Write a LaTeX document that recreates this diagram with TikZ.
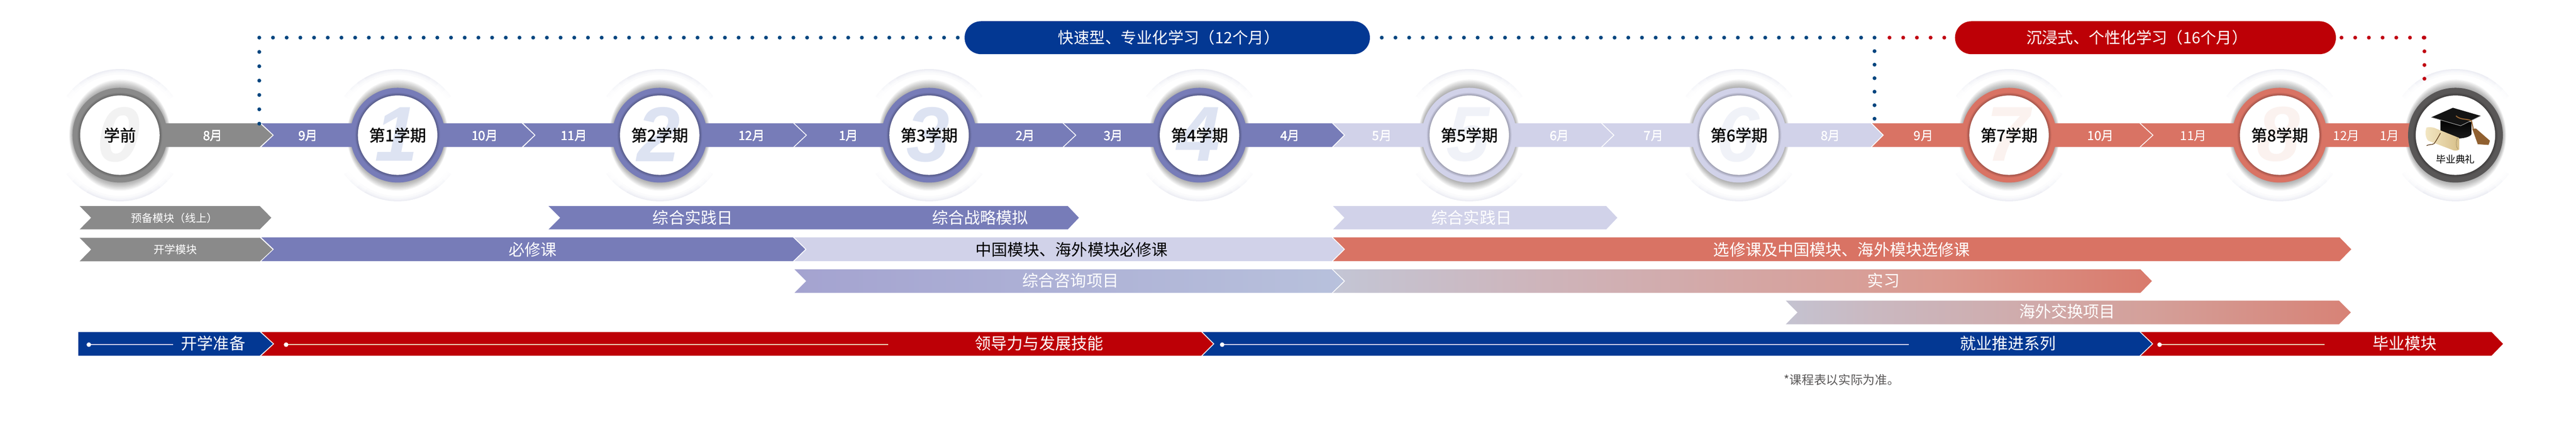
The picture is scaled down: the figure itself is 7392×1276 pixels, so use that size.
\documentclass[tikz,border=0pt]{standalone}
\usepackage{fontspec}
\setmainfont{Noto Sans CJK SC}
\newfontfamily\ghostfont[BoldItalicFont={Liberation Sans Bold Italic}]{Liberation Sans}
\newfontfamily\semfont[FakeBold=1.2]{Noto Sans CJK SC}

\definecolor{navy}{HTML}{033893}
\definecolor{crimson}{HTML}{BD0006}
\definecolor{dotblue}{HTML}{00457F}
\definecolor{dotred}{HTML}{C00010}
\definecolor{slate}{HTML}{8A8A8A}
\definecolor{iris}{HTML}{777CB8}
\definecolor{mist}{HTML}{D1D2E9}
\definecolor{coral}{HTML}{D97364}
\definecolor{coal}{HTML}{595757}
\definecolor{sky}{HTML}{B9C3DF}
\definecolor{skyb}{HTML}{BFCCDF}
\definecolor{blush}{HTML}{CEB4BA}
\definecolor{blushb}{HTML}{CAB8C0}
\definecolor{rosy}{HTML}{DA998F}
\definecolor{rosyb}{HTML}{D4A09A}
\definecolor{lilaca}{HTML}{A4A3D0}
\definecolor{lilacb}{HTML}{B8C1DC}
\definecolor{parch}{HTML}{F3E7C4}
\definecolor{parchb}{HTML}{D8C08A}
\definecolor{haloc}{HTML}{7078A8}

\pgfdeclarehorizontalshading{sweepa}{100bp}{color(0bp)=(sky); color(20bp)=(skyb); color(38bp)=(blush); color(62bp)=(rosy); color(78bp)=(coral); color(100bp)=(coral)}
\pgfdeclarehorizontalshading{sweepb}{100bp}{color(0bp)=(sky); color(18bp)=(skyb); color(33bp)=(blushb); color(57bp)=(rosyb); color(84bp)=(coral); color(100bp)=(coral)}

\tikzset{
  lab/.style={inner sep=0pt},
  monthlab/.style={lab,text=white,text height=31.7pt,text depth=4.3pt,font=\fontsize{36}{36}\selectfont},
  semlab/.style={lab,text=black,text height=40.5pt,text depth=5.5pt,font=\semfont\fontsize{46}{46}\selectfont},
  barlab/.style={lab,text=white,text height=40.5pt,text depth=5.5pt,font=\fontsize{46}{46}\selectfont},
  smalllab/.style={lab,text=white,text height=27.3pt,text depth=3.7pt,font=\fontsize{31}{31}\selectfont},
  pilltext/.style={lab,text=white,text height=39.6pt,text depth=5.4pt,font=\fontsize{45}{45}\selectfont},
  pill/.style={rounded corners=47pt,minimum height=94.5pt,inner sep=0pt},
  disc/.style={circle,fill=white,minimum size=228pt,inner sep=0pt},
  ghost/.style={inner sep=0pt,font=\ghostfont\bfseries\itshape\fontsize{223}{223}\selectfont},
  bluedots/.style={dotblue,line width=11pt,line cap=round,dash pattern=on 0pt off 39.3pt},
  reddots/.style={dotred,line width=11pt,line cap=round,dash pattern=on 0pt off 39.3pt},
  spine/.style={line width=3pt},
}
% x1, notch, x2, tip, top, bottom
\newcommand{\chev}[7][]{\path[#1] (#2,#6)--(#4,#6)--(#5,{(#6+#7)/2})--(#4,#7)--(#2,#7)--(#3,{(#6+#7)/2})--cycle;}
% ring with darker inner edge
\newcommand{\ringat}[2]{
  \fill[#2] (#1,388) circle (136);
  \foreach \rr in {115,...,122}
    \fill[black,opacity=.03] (#1,388) circle (\rr);
}

\begin{document}
\begin{tikzpicture}[x=1pt,y=-1pt]
  \useasboundingbox (0,0) rectangle (7392,1276);
  % halos and soft shadows behind the timeline
  \foreach \xc in {344,1141,1893,2666,3442,4216,4990,5765,6541.5,7046}{
    \foreach \hh in {30,38,46,54}{
      \foreach \ww in {3,6,10,16}{
        \draw[haloc,opacity=.007,line width=\ww] (\xc,388) ++({90-\hh}:{190-\ww/2}) arc ({90-\hh}:{90+\hh}:{190-\ww/2});
        \draw[haloc,opacity=.007,line width=\ww] (\xc,388) ++({270-\hh}:{190-\ww/2}) arc ({270-\hh}:{270+\hh}:{190-\ww/2});
      }
    }
    \foreach \dd in {0,1,...,13}
      \fill[black,opacity=.028] (\xc,388) ellipse ({136+\dd*.75} and {136+\dd*1.85});
  }
  % month band
  \foreach \xa/\xn/\xb/\xt/\col in {344/344/745/782/slate,750/786/1497/1533/iris,1502/1537/2276/2312/iris,
    2280/2316/3049/3085/iris,3053/3089/3822/3856/iris,3826/3860/4594/4629/mist,4598/4633/5368/5402/mist,
    5372/5406/6139/6176/coral,6143/6180/7046/7046/coral}
    \chev[fill=\col]{\xa}{\xn}{\xb}{\xt}{354}{422}
  \foreach \xm/\mm/\nm in {611/8/a,884/9/b,1391/10/c,1647/11/d,2157/12/e,2435/1/f,2942/2/g,3195/3/h,3702/4/i,
    3966/5/j,4475/6/k,4745/7/l,5253/8/m,5520/9/n,6028/10/o,6294/11/p,6733/12/q,6857/1/r}
    \node (month\nm) [monthlab] at (\xm,389) {\mm 月};
  % semester rings
  \foreach \xc/\col/\dig/\digc/\nm/\txt in {344/slate/0/F2F2F2/zero/学前,1141/iris/1/DDE3F2/one/第1学期,
    1893/iris/2/DDE3F2/two/第2学期,2666/iris/3/DDE3F2/three/第3学期,3442/iris/4/DDE3F2/four/第4学期,
    4216/mist/5/F0F2F8/five/第5学期,4990/mist/6/F0F2F8/six/第6学期,5765/coral/7/FBF2EF/seven/第7学期,
    6541.5/coral/8/FBF2EF/eight/第8学期}{
    \ringat{\xc}{\col}
    \definecolor{digc}{HTML}{\digc}
    \node (disc\nm) [disc] at (\xc,388) {};
    \node (ghost\nm) [ghost,text=digc] at (\xc-3,386) {\dig};
    \node (sem\nm) [semlab] at (\xc,388) {\txt};
  }
  \ringat{7046}{coal}
  \node (discgrad) [disc] at (7046,388) {};
  % cap
  \shade[top color=black,bottom color=black!88] (7003,345) -- (7003,385) .. controls (7012,402) and (7084,402) .. (7092,385) -- (7092,350) -- cycle;
  \fill[black!92] (7038.7,309.4) -- (7118.6,332.6) -- (7061,361) -- (6976.6,336.7) -- cycle;
  \draw[black!35,line width=1.5pt] (6976.6,336.7) -- (7061,361) -- (7118.6,332.6);
  % diploma
  \shade[left color=parch,right color=parchb] (6963,366) .. controls (6975,364) and (6985,366) .. (6990,369) -- (7057,396) -- (7057,429) .. controls (7052,433) and (7044,433) .. (7039,431) -- (6968,404) .. controls (6960,396) and (6958,380) .. (6963,366) -- cycle;
  \draw[parchb!70!black,line width=1pt] (7052,396) .. controls (7046,408) and (7048,422) .. (7053,428);
  \draw[black!50!brown,line width=2pt] (7003,382) .. controls (6996,395) and (6990,405) .. (6985,412) .. controls (6980,416) and (6970,414) .. (6963,418);
  % tassel
  \draw[brown!80!black,line width=3pt] (7047.6,332.6) .. controls (7060,345) and (7080,340) .. (7092,347) -- (7097,369);
  \fill[brown!75!black] (7094,369) -- (7105,369) -- (7145,404) -- (7141,416) -- (7110,414) -- cycle;
  \node (gradlab) [lab,text=black,text height=24.6pt,text depth=3.4pt,font=\fontsize{28}{28}\selectfont] at (7046,457) {毕业典礼};
  % dotted links and pills
  \coordinate (kickoff) at (744,355);
  \coordinate (kickup) at (744,108);
  \coordinate (bluefrom) at (3965,108);
  \coordinate (bluecorner) at (5379,108);
  \coordinate (bluedrop) at (5379,341);
  \coordinate (redfrom) at (5422,108);
  \coordinate (redfrom2) at (6719,108);
  \coordinate (redcorner) at (6957,108);
  \coordinate (reddrop) at (6957,262);
  \draw[bluedots,dash pattern=on 0pt off 41.2pt] (kickoff) -- (kickup);
  \draw[bluedots] (kickup) -- (2767,108);
  \draw[bluedots] (bluefrom) -- (bluecorner);
  \draw[bluedots,dash pattern=on 0pt off 38.8pt] (bluecorner) -- (bluedrop);
  \draw[reddots] (redfrom) -- (5600,108);
  \draw[reddots] (redfrom2) -- (redcorner);
  \draw[reddots] (redcorner) -- (reddrop);
  \node (bluepill) [pill,fill=navy,minimum width=1163pt] at (3349.5,108.2) {};
  \node (bluetext) [pilltext] at (3354,108) {快速型、专业化学习（12个月）};
  \node (redpill) [pill,fill=crimson,minimum width=1093pt] at (6156.5,108.2) {};
  \node (redtext) [pilltext] at (6132,108) {沉浸式、个性化学习（16个月）};
  % course bars
  \chev[fill=slate]{228.6}{261.6}{745.5}{778.6}{591.4}{658.6}
  \chev[fill=iris]{1574}{1607.7}{3064}{3096}{591.4}{658.6}
  \chev[fill=mist]{3825}{3858}{4609}{4641}{591.4}{658.6}
  \chev[fill=slate]{228.6}{261.6}{746}{782}{682.5}{750}
  \chev[fill=iris]{750}{786}{2275.5}{2310.6}{681.5}{749.5}
  \chev[fill=mist]{2279.5}{2314.6}{3821.4}{3856}{681.5}{749.5}
  \chev[fill=coral]{3825.4}{3860}{6713.7}{6747}{681.5}{749.5}
  \chev[left color=lilaca,right color=lilacb]{2279.8}{2313.4}{3821.4}{3856}{773}{840.7}
  \chev[shading=sweepa]{3825}{3860}{6142}{6175}{773}{840.7}
  \chev[shading=sweepb]{5124.5}{5158}{6712}{6746}{863}{930.7}
  \chev[fill=navy]{225}{225}{745.5}{783}{953}{1021}
  \chev[fill=crimson]{750}{787}{3447}{3481}{953}{1021}
  \chev[fill=navy]{3451}{3485}{6139.4}{6175}{953}{1021}
  \chev[fill=crimson]{6143.4}{6179}{7149.5}{7182.5}{953}{1021}
  % bar labels
  \node (prep) [smalllab] at (500,626) {预备模块（线上）};
  \node (open) [smalllab] at (504,717) {开学模块};
  \node (dayone) [barlab] at (1988,624.5) {综合实践日};
  \node (simu) [barlab] at (2813,624.5) {综合战略模拟};
  \node (daytwo) [barlab] at (4223,624.5) {综合实践日};
  \node (core) [barlab] at (1529,716) {必修课};
  \node (chinacore) [barlab,text=black] at (3075,716) {中国模块、海外模块必修课};
  \node (elect) [barlab] at (5285,716) {选修课及中国模块、海外模块选修课};
  \node (consult) [barlab] at (3072,805) {综合咨询项目};
  \node (intern) [barlab] at (5405,805) {实习};
  \node (exchange) [barlab] at (5932,894) {海外交换项目};
  \node (ready) [barlab] at (612,985) {开学准备};
  \node (lead) [barlab] at (2982,985) {领导力与发展技能};
  \node (career) [barlab] at (5762,985) {就业推进系列};
  \node (finish) [barlab] at (6900,985) {毕业模块};
  % thin lines with end dots
  \foreach \xa/\xb/\col in {255/497/CFD0EA,821/2549/EBD3B8,3507/5477/CFD0EA,6197/6670.5/EBD3B8}{
    \definecolor{linec}{HTML}{\col}
    \draw[spine,linec] (\xa,989.3) -- (\xb,989.3);
    \fill[white] (\xa,989.3) circle (6.5);
  }
  \node (note) [lab,text=coal,text height=30.8pt,text depth=4.2pt,font=\fontsize{35}{35}\selectfont] at (5285,1090) {*课程表以实际为准。};
\end{tikzpicture}
\end{document}
